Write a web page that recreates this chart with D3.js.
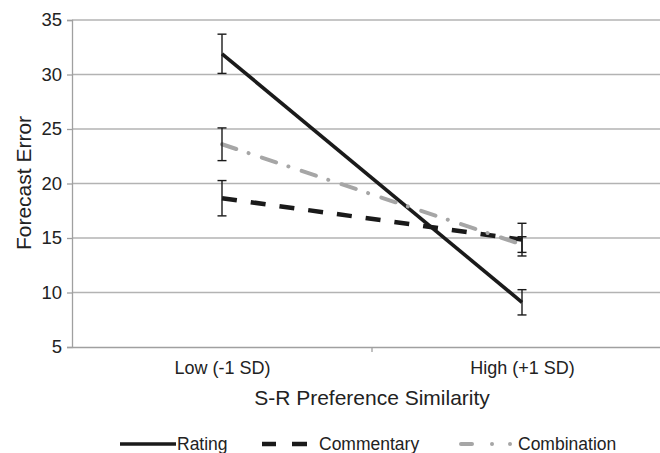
<!DOCTYPE html>
<html><head><meta charset="utf-8">
<script src="https://cdn.jsdelivr.net/npm/d3@7"></script>
<style>
body{margin:0;background:#fff;}
text{font-family:"Liberation Sans",Arial,sans-serif;fill:#222;}
</style></head>
<body><svg id="c" width="660" height="453"></svg>
<script>
const categories = ["Low (-1 SD)", "High (+1 SD)"];
const seriesNames = ["Rating", "Commentary", "Combination"];
const ratingValues = [31.9, 9.1];
const ratingErrors = [1.8, 1.16];
const commentaryValues = [18.65, 14.85];
const commentaryErrors = [1.62, 1.5];
const combinationValues = [23.6, 14.4];
const combinationErrors = [1.5, 0.72];
const yTicks = [5, 10, 15, 20, 25, 30, 35];
const xTitle = "S-R Preference Similarity";
const yTitle = "Forecast Error";

const styles = {
  Rating: {color: "#1a1a1a", width: 3.6, dash: null, legendDash: null, cap: "butt"},
  Commentary: {color: "#1a1a1a", width: 4.5, dash: "15,14", legendDash: "14,16,15,60", cap: "butt"},
  Combination: {color: "#a6a6a6", width: 4, dash: "15,13,0.01,14", legendDash: "11,20,0.01,18,0.01,60", cap: "round"}
};
const series = [
  {name: "Rating", values: ratingValues, errors: ratingErrors},
  {name: "Commentary", values: commentaryValues, errors: commentaryErrors},
  {name: "Combination", values: combinationValues, errors: combinationErrors}
];

const svg = d3.select("#c");
const x = d3.scalePoint().domain(categories).range([72, 672]).padding(0.5);
const y = d3.scaleLinear().domain([5, 35]).range([347, 20]);

// gridlines
svg.append("g").selectAll("line").data(yTicks.slice(1)).join("line")
  .attr("x1", 72).attr("x2", 660)
  .attr("y1", d => y(d)).attr("y2", d => y(d))
  .attr("stroke", "#b3b3b3").attr("stroke-width", 1.3);

// y axis
const yAxis = svg.append("g").attr("transform", "translate(72,0)")
  .call(d3.axisLeft(y).tickValues(yTicks).tickSize(5).tickPadding(5));
yAxis.select(".domain").attr("stroke", "#a0a0a0").attr("stroke-width", 1.3);
yAxis.selectAll(".tick line").attr("stroke", "#a0a0a0").attr("stroke-width", 1.3);
yAxis.selectAll(".tick text").style("font-size", "18.5px").attr("fill", "#222")
  .style("font-family", '"Liberation Sans",Arial,sans-serif');

// x axis
const xb = d3.scaleBand().domain(categories).range([72, 672]);
const xAxis = svg.append("g").attr("transform", "translate(0,347)")
  .call(d3.axisBottom(x).tickSize(0).tickPadding(14));
xAxis.select(".domain").attr("stroke", "#a0a0a0").attr("stroke-width", 1.3);
xAxis.selectAll(".tick text").style("font-size", "18px").attr("fill", "#222")
  .style("font-family", '"Liberation Sans",Arial,sans-serif');
svg.append("g").selectAll("line").data([categories[1]]).join("line")
  .attr("x1", d => xb(d)).attr("x2", d => xb(d))
  .attr("y1", 347).attr("y2", 352)
  .attr("stroke", "#a0a0a0").attr("stroke-width", 1.3);

// titles
svg.append("text").attr("x", 372).attr("y", 405).attr("text-anchor", "middle")
  .style("font-size", "21px").text(xTitle);
svg.append("text").attr("transform", "translate(31,183) rotate(-90)")
  .attr("text-anchor", "middle").style("font-size", "21px").text(yTitle);

// lines
const line = d3.line().x((d, i) => x(categories[i])).y(d => y(d));
series.forEach(s => {
  const st = styles[s.name];
  svg.append("path").datum(s.values)
    .attr("d", line).attr("fill", "none")
    .attr("stroke", st.color).attr("stroke-width", st.width)
    .attr("stroke-linecap", st.cap)
    .attr("stroke-dasharray", st.dash);
});

// error bars
series.forEach(s => {
  const g = svg.append("g");
  s.values.forEach((v, i) => {
    const cx = x(categories[i]);
    const lo = y(v - s.errors[i]), hi = y(v + s.errors[i]);
    g.append("line").attr("x1", cx).attr("x2", cx).attr("y1", lo).attr("y2", hi)
      .attr("stroke", "#1a1a1a").attr("stroke-width", 1.4);
    [lo, hi].forEach(yy => g.append("line").attr("x1", cx - 4.5).attr("x2", cx + 4.5)
      .attr("y1", yy).attr("y2", yy).attr("stroke", "#1a1a1a").attr("stroke-width", 1.4));
  });
});

// legend
const legendX = [120, 262, 461];
const lg = svg.append("g");
seriesNames.forEach((n, i) => {
  const st = styles[n];
  lg.append("line").attr("x1", legendX[i]).attr("x2", legendX[i] + 56)
    .attr("y1", 444).attr("y2", 444)
    .attr("stroke", st.color).attr("stroke-width", st.width)
    .attr("stroke-linecap", st.cap).attr("stroke-dasharray", st.legendDash);
  lg.append("text").attr("x", legendX[i] + 57).attr("y", 450)
    .style("font-size", "17.5px").text(n);
});
</script></body></html>
